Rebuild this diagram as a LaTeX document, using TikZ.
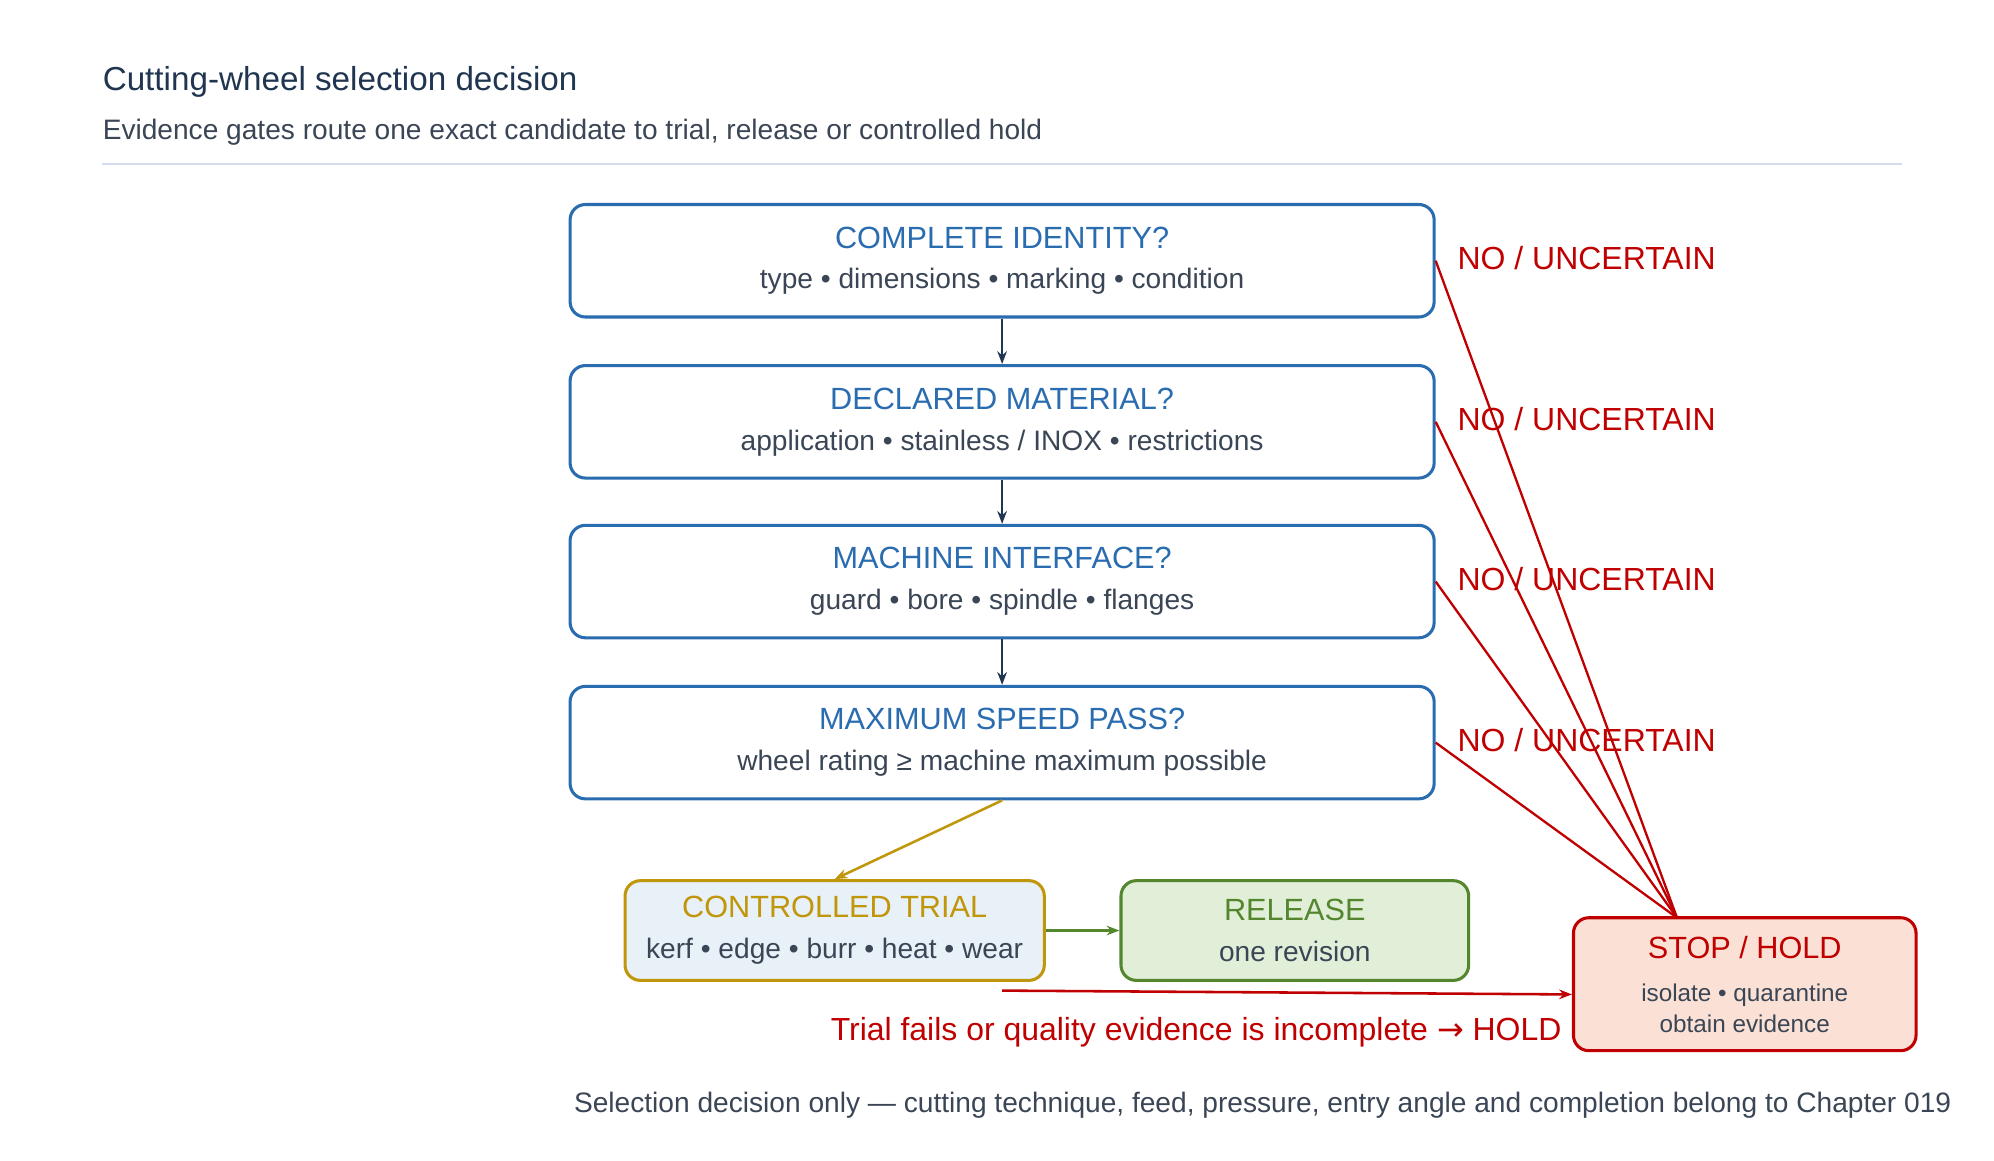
\documentclass[tikz,border=0pt]{standalone}
\usepackage{fontspec}
\setmainfont{Liberation Sans}
\newfontfamily\symfont{DejaVu Sans}
\usetikzlibrary{positioning,arrows.meta}
\definecolor{navy}{HTML}{1F3550}
\definecolor{gatetext}{HTML}{2A6CB0}
\definecolor{bodytext}{HTML}{3A4555}
\definecolor{holdred}{HTML}{C00000}
\definecolor{trialgold}{HTML}{C0960A}
\definecolor{trialfill}{HTML}{E8F0F8}
\definecolor{relgreen}{HTML}{54862E}
\definecolor{relfill}{HTML}{E1EFD8}
\definecolor{holdfill}{HTML}{FBE1D5}
\definecolor{rulecol}{HTML}{D5DCF0}
\begin{document}
\begin{tikzpicture}[x=0.5pt,y=-0.5pt,% styles for the whole picture
					every node/.style={align=center,inner sep=0pt},
					gate/.style={rectangle,rounded corners=6pt,draw=gatetext,line width=1.2pt,fill=white,
						minimum width=338pt,minimum height=44pt},
					outcome/.style={rectangle,rounded corners=6pt,line width=1.2pt,minimum height=39pt},
					nolabel/.style={text=holdred,font=\fontsize{12.5}{15}\selectfont,anchor=west},
					flow/.style={-{Stealth[length=5pt]},line width=1pt}
					]
\useasboundingbox (0,0) rectangle (1560,908);
% header
\node[anchor=base west,text=navy,font=\fontsize{13}{16}\selectfont](T) at (80,71){Cutting-wheel selection decision};
\node[anchor=base west,text=bodytext,font=\fontsize{11}{13}\selectfont](S) at (80,109){Evidence gates route one exact candidate to trial, release or controlled hold};
\draw[rulecol,line width=0.8pt] (80,128) -- (1488,128);
% gates
\node[gate](G1) at (784,204){\fontsize{12}{14}\selectfont\color{gatetext}COMPLETE IDENTITY?\\[4pt]\fontsize{11}{13}\selectfont\color{bodytext}type • dimensions • marking • condition};
\node[gate](G2) at (784,330){\fontsize{12}{14}\selectfont\color{gatetext}DECLARED MATERIAL?\\[4pt]\fontsize{11}{13}\selectfont\color{bodytext}application • stainless / INOX • restrictions};
\node[gate](G3) at (784,455){\fontsize{12}{14}\selectfont\color{gatetext}MACHINE INTERFACE?\\[4pt]\fontsize{11}{13}\selectfont\color{bodytext}guard • bore • spindle • flanges};
\node[gate](G4) at (784,581){\fontsize{12}{14}\selectfont\color{gatetext}MAXIMUM SPEED PASS?\\[4pt]\fontsize{11}{13}\selectfont\color{bodytext}wheel rating ≥ machine maximum possible};
% outcomes
\node[outcome,draw=trialgold,fill=trialfill,minimum width=164pt](TR) at (653,728){\fontsize{12}{14}\selectfont\color{trialgold}CONTROLLED TRIAL\\[4pt]\fontsize{11}{13}\selectfont\color{bodytext}kerf • edge • burr • heat • wear};
\node[outcome,draw=relgreen,fill=relfill,minimum width=136pt](RE) at (1013,728){\fontsize{12}{14}\selectfont\color{relgreen}RELEASE\\[4pt]\fontsize{11}{13}\selectfont\color{bodytext}one revision};
\node[outcome,draw=holdred,fill=holdfill,minimum width=134pt,minimum height=52pt](H) at (1365,770){\fontsize{12}{14}\selectfont\color{holdred}STOP / HOLD\\[5pt]\fontsize{9.5}{12}\selectfont\color{bodytext}isolate • quarantine\\\fontsize{9.5}{12}\selectfont\color{bodytext}obtain evidence};
% no / uncertain labels
\node[nolabel](N1) at (1140,202){NO / UNCERTAIN};
\node[nolabel](N2) at (1140,328){NO / UNCERTAIN};
\node[nolabel](N3) at (1140,453){NO / UNCERTAIN};
\node[nolabel](N4) at (1140,579){NO / UNCERTAIN};
\coordinate (HT) at (1312,718);
\coordinate (FailStart) at (784,775);
\path[flow,navy]
(G1)edge (G2)
(G2)edge (G3)
(G3)edge (G4)
;
\draw[flow,trialgold] (G4.south) -- (TR.north);
\draw[flow,relgreen] (TR) -- (RE);
\foreach \g in {G1,G2,G3,G4}
	\draw[holdred,line width=0.9pt] (\g.east) -- (HT);
\draw[flow,holdred] (FailStart) -- (H.west |- 0,778);
\node[anchor=base east,text=holdred,font=\fontsize{12.5}{15}\selectfont](F) at (1222,814){Trial fails or quality evidence is incomplete {\symfont→} HOLD};
\node[anchor=base east,text=bodytext,font=\fontsize{11}{13}\selectfont](FN) at (1527,870){Selection decision only — cutting technique, feed, pressure, entry angle and completion belong to Chapter 019};
\end{tikzpicture}
\end{document}
